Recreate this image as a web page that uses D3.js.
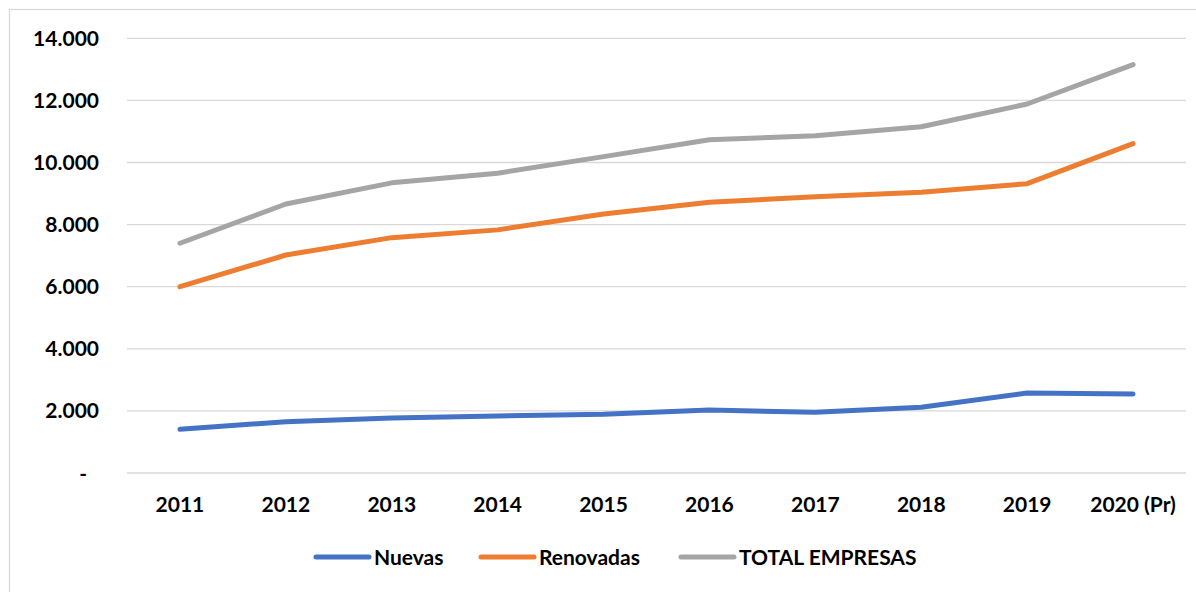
<!DOCTYPE html>
<html>
<head>
<meta charset="utf-8">
<script src="https://cdn.jsdelivr.net/npm/d3@7"></script>
<style>
  body { margin: 0; background: #fff; }
  text { font-family: Lato, "Open Sans", sans-serif; font-weight: bold; fill: #000; }
</style>
</head>
<body>
<div id="chart"></div>
<script>
// Data
const years = ["2011", "2012", "2013", "2014", "2015", "2016", "2017", "2018", "2019", "2020 (Pr)"];
const nuevas = [1407, 1652, 1771, 1836, 1890, 2029, 1955, 2116, 2576, 2544];
const renovadas = [6000, 7021, 7580, 7830, 8340, 8718, 8900, 9040, 9318, 10606];
const totalEmpresas = [7400, 8663, 9345, 9655, 10190, 10730, 10860, 11153, 11884, 13150];
const yTicks = [0, 2000, 4000, 6000, 8000, 10000, 12000, 14000];

const series = [
  { name: "Nuevas", values: nuevas, color: "#4472C4" },
  { name: "Renovadas", values: renovadas, color: "#ED7D31" },
  { name: "TOTAL EMPRESAS", values: totalEmpresas, color: "#A5A5A5" }
];

const width = 1196, height = 592;
const plot = { left: 127, right: 1186, top: 38.3, bottom: 473 };

const svg = d3.select("#chart")
  .append("svg")
  .attr("width", width)
  .attr("height", height);

// chart frame
svg.append("rect")
  .attr("x", 9.5).attr("y", 9.5)
  .attr("width", width + 20).attr("height", height + 20)
  .attr("fill", "none")
  .attr("stroke", "#d9d9d9")
  .attr("stroke-width", 1.3);

const x = d3.scaleBand()
  .domain(years)
  .range([plot.left, plot.right]);

const y = d3.scaleLinear()
  .domain([0, 14000])
  .range([plot.bottom, plot.top]);

const fmt = v => v === 0 ? "-" : d3.format(",")(v).replace(/,/g, ".");

// gridlines
svg.append("g")
  .selectAll("line")
  .data(yTicks)
  .join("line")
  .attr("x1", plot.left).attr("x2", plot.right)
  .attr("y1", d => y(d)).attr("y2", d => y(d))
  .attr("stroke", "#d9d9d9")
  .attr("stroke-width", 1.3);

// y labels
svg.append("g")
  .selectAll("text")
  .data(yTicks)
  .join("text")
  .attr("x", d => d === 0 ? 87 : 99)
  .attr("y", d => y(d))
  .attr("dy", "0.36em")
  .attr("text-anchor", "end")
  .style("font-size", "21px")
  .text(fmt);

// x labels
svg.append("g")
  .selectAll("text")
  .data(years)
  .join("text")
  .attr("x", d => x(d) + x.bandwidth() / 2)
  .attr("y", 512)
  .attr("text-anchor", "middle")
  .style("font-size", "21px")
  .text(d => d);

// lines
const line = d3.line()
  .x((d, i) => x(years[i]) + x.bandwidth() / 2)
  .y(d => y(d));

svg.append("g")
  .selectAll("path")
  .data(series)
  .join("path")
  .attr("d", d => line(d.values))
  .attr("fill", "none")
  .attr("stroke", d => d.color)
  .attr("stroke-width", 5)
  .attr("stroke-linecap", "round")
  .attr("stroke-linejoin", "round");

// legend
const legendX = [316, 481, 681];
const legend = svg.append("g")
  .selectAll("g")
  .data(series)
  .join("g")
  .attr("transform", (d, i) => `translate(${legendX[i]},557)`);

legend.append("line")
  .attr("x1", 0).attr("x2", 53)
  .attr("stroke", d => d.color)
  .attr("stroke-width", 5)
  .attr("stroke-linecap", "round");

legend.append("text")
  .attr("x", 58)
  .attr("dy", "0.36em")
  .style("font-size", "21px")
  .text(d => d.name);
</script>
</body>
</html>
